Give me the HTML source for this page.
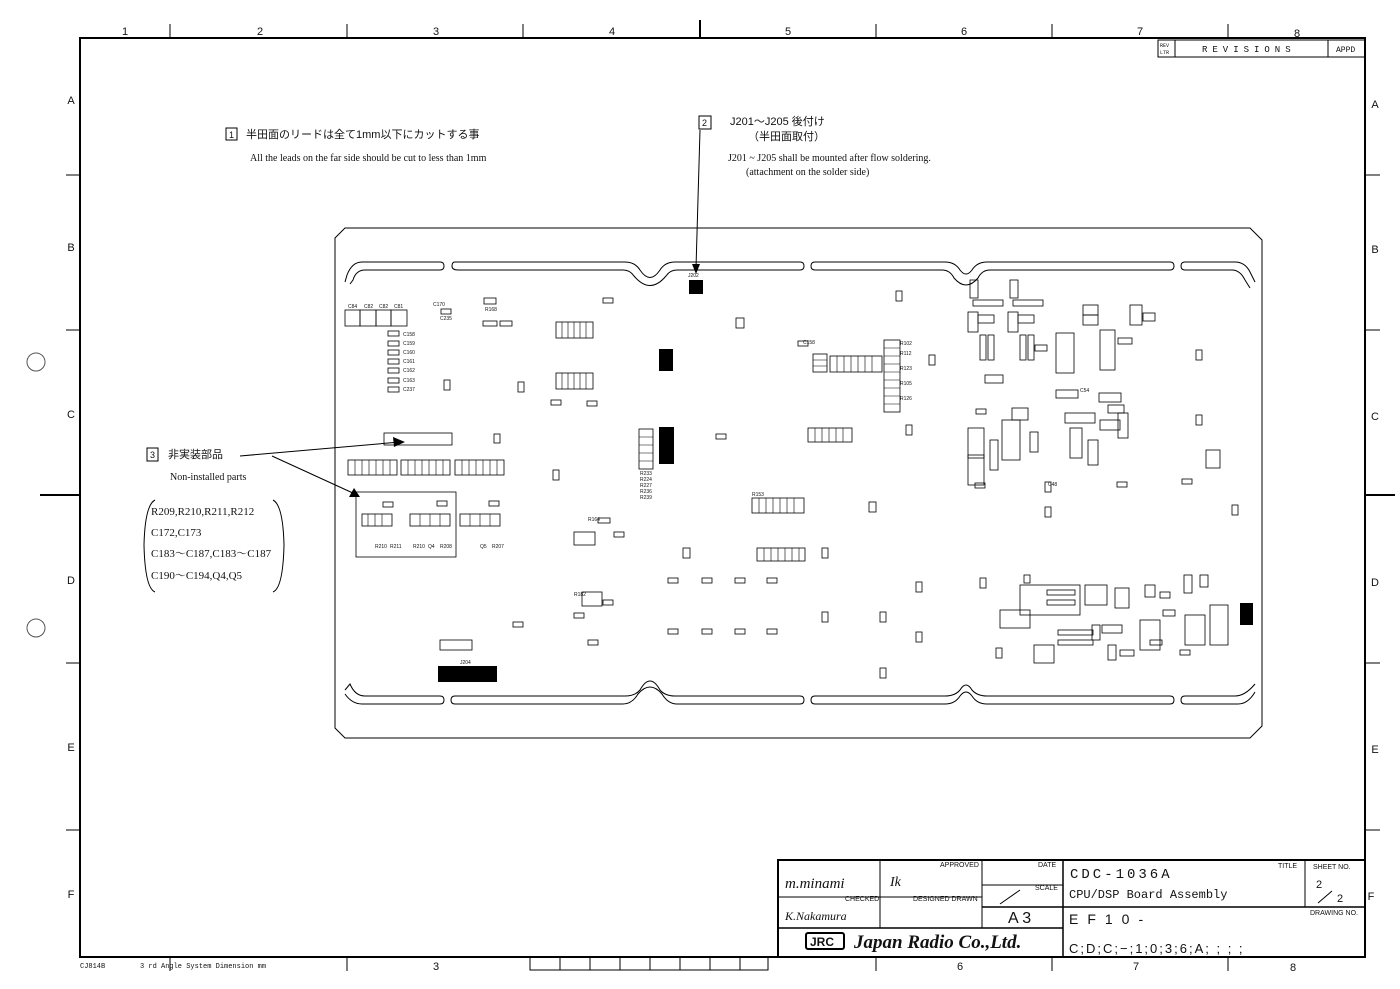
<!DOCTYPE html>
<html><head><meta charset="utf-8"><style>
html,body{margin:0;padding:0;background:#fff;}
svg{display:block;}
text{font-family:"Liberation Sans","Noto Sans CJK JP",sans-serif;fill:#111;}
.s{font-family:"Liberation Serif","Noto Serif CJK SC",serif;}
.m{font-family:"Liberation Mono",monospace;}
.t{font-size:5px;}
</style></head><body>
<svg width="1400" height="989" viewBox="0 0 1400 989" xmlns="http://www.w3.org/2000/svg">
<rect width="1400" height="989" fill="#fff"/>
<rect x="80" y="38" width="1285" height="919" fill="none" stroke="#000" stroke-width="2"/>
<g stroke="#000" stroke-width="1">
<line x1="170" y1="24" x2="170" y2="38"/><line x1="347" y1="24" x2="347" y2="38"/><line x1="523" y1="24" x2="523" y2="38"/><line x1="700" y1="20" x2="700" y2="38" stroke-width="2"/><line x1="876" y1="24" x2="876" y2="38"/><line x1="1052" y1="24" x2="1052" y2="38"/><line x1="1228" y1="24" x2="1228" y2="38"/>
<line x1="170" y1="957" x2="170" y2="971"/><line x1="347" y1="957" x2="347" y2="971"/><line x1="1052" y1="957" x2="1052" y2="971"/><line x1="1228" y1="957" x2="1228" y2="971"/><line x1="876" y1="957" x2="876" y2="971"/>
<line x1="66" y1="175" x2="80" y2="175"/><line x1="66" y1="330" x2="80" y2="330"/><line x1="40" y1="495" x2="80" y2="495" stroke-width="2"/><line x1="66" y1="663" x2="80" y2="663"/><line x1="66" y1="830" x2="80" y2="830"/>
<line x1="1365" y1="175" x2="1380" y2="175"/><line x1="1365" y1="330" x2="1380" y2="330"/><line x1="1365" y1="495" x2="1395" y2="495" stroke-width="2"/><line x1="1365" y1="663" x2="1380" y2="663"/><line x1="1365" y1="830" x2="1380" y2="830"/>
</g>
<g fill="none" stroke="#000"><rect x="530" y="957" width="238" height="13"/><line x1="560" y1="957" x2="560" y2="970"/><line x1="590" y1="957" x2="590" y2="970"/><line x1="620" y1="957" x2="620" y2="970"/><line x1="650" y1="957" x2="650" y2="970"/><line x1="680" y1="957" x2="680" y2="970"/><line x1="710" y1="957" x2="710" y2="970"/><line x1="740" y1="957" x2="740" y2="970"/></g>
<g font-size="11" text-anchor="middle">
<text x="125" y="35">1</text><text x="260" y="35">2</text><text x="436" y="35">3</text><text x="612" y="35">4</text><text x="788" y="35">5</text><text x="964" y="35">6</text><text x="1140" y="35">7</text><text x="1297" y="37">8</text>
<text x="436" y="970">3</text><text x="960" y="970">6</text><text x="1136" y="970">7</text><text x="1293" y="971">8</text>
<text x="71" y="104">A</text><text x="71" y="251">B</text><text x="71" y="418">C</text><text x="71" y="584">D</text><text x="71" y="751">E</text><text x="71" y="898">F</text>
<text x="1375" y="108">A</text><text x="1375" y="253">B</text><text x="1375" y="420">C</text><text x="1375" y="586">D</text><text x="1375" y="753">E</text><text x="1371" y="900">F</text>
</g>
<circle cx="36" cy="362" r="9" fill="none" stroke="#555"/><circle cx="36" cy="628" r="9" fill="none" stroke="#555"/>
<text x="80" y="968" font-size="7" class="m">CJ814B</text><text x="140" y="968" font-size="7" class="m">3 rd Angle System  Dimension mm</text>
<g fill="none" stroke="#000"><rect x="1158" y="40" width="207" height="17"/><line x1="1175" y1="40" x2="1175" y2="57"/><line x1="1328" y1="40" x2="1328" y2="57"/></g>
<text x="1160" y="47" font-size="5" class="m">REV</text><text x="1160" y="54" font-size="5" class="m">LTR</text>
<text x="1202" y="52" font-size="9" class="m" letter-spacing="5">REVISIONS</text><text x="1336" y="52" font-size="8" class="m">APPD</text>
<rect x="226" y="128" width="11" height="12" fill="none" stroke="#000"/><text x="229" y="138" font-size="9">1</text>
<text x="246" y="138" font-size="11">半田面のリードは全て1mm以下にカットする事</text>
<text x="250" y="161" font-size="10" class="s">All the leads on the far side should be cut to less than 1mm</text>
<rect x="699" y="116" width="12" height="13" fill="none" stroke="#000"/><text x="702" y="126" font-size="9">2</text>
<text x="730" y="125" font-size="11">J201～J205  後付け</text><text x="748" y="140" font-size="11">（半田面取付）</text>
<text x="728" y="161" font-size="10" class="s">J201 ~ J205 shall be mounted after flow soldering.</text>
<text x="746" y="175" font-size="10" class="s">(attachment on the solder side)</text>
<line x1="700" y1="130" x2="696" y2="268" stroke="#000"/><polygon points="692,264 700,264 696,274" fill="#000"/>
<rect x="147" y="448" width="11" height="13" fill="none" stroke="#000"/><text x="150" y="458" font-size="9">3</text>
<text x="168" y="458" font-size="11">非実装部品</text>
<text x="170" y="480" font-size="10" class="s">Non-installed parts</text>
<line x1="240" y1="456" x2="400" y2="442" stroke="#000"/><polygon points="393,437 405,442 394,447" fill="#000"/>
<line x1="272" y1="456" x2="355" y2="494" stroke="#000"/><polygon points="349,497 360,497 354,488" fill="#000"/>
<path d="M155,500 Q145,505 144,545 Q145,588 155,592" fill="none" stroke="#000"/><path d="M273,500 Q283,505 284,545 Q283,588 273,592" fill="none" stroke="#000"/>
<g font-size="11" class="s"><text x="151" y="515" class="s">R209,R210,R211,R212</text><text x="151" y="536" class="s">C172,C173</text><text x="151" y="557" class="s">C183～C187,C183～C187</text><text x="151" y="579" class="s">C190～C194,Q4,Q5</text></g>
<g fill="none" stroke="#000" stroke-width="1">
<path d="M345,228 L1250,228 L1262,240 L1262,726 L1250,738 L345,738 L335,728 L335,238 Z"/>
<path d="M345,282 L347,275 Q352,262 362,262 L440,262 Q444,262 444,266 Q444,270 440,270 L365,270 Q356,270 353,280 L350,284"/>
<path d="M455,262 L625,262 Q635,262 640,270 Q650,285 660,270 Q665,262 675,262 L800,262 Q804,262 804,266 Q804,270 800,270 L677,270 Q670,270 666,276 Q650,295 634,276 Q630,270 623,270 L458,270 Q452,270 452,266 Q452,262 455,262"/>
<path d="M815,262 L945,262 Q955,262 960,270 Q966,278 972,270 Q977,262 987,262 L1170,262 Q1174,262 1174,266 Q1174,270 1170,270 L990,270 Q982,270 978,278 Q966,292 954,278 Q950,270 942,270 L815,270 Q811,270 811,266 Q811,262 815,262"/>
<path d="M1185,262 L1235,262 Q1245,262 1250,272 L1255,282 M1185,270 L1232,270 Q1240,270 1245,280 L1250,288 M1185,262 Q1181,262 1181,266 Q1181,270 1185,270"/>
<path d="M345,690 L350,684 Q355,696 365,696 L440,696 Q444,696 444,700 Q444,704 440,704 L362,704 Q352,704 345,694"/>
<path d="M455,696 L625,696 Q635,696 640,690 Q650,672 660,690 Q665,696 675,696 L800,696 Q804,696 804,700 Q804,704 800,704 L677,704 Q668,704 662,694 Q650,680 638,694 Q632,704 623,704 L455,704 Q451,704 451,700 Q451,696 455,696"/>
<path d="M815,696 L945,696 Q955,696 960,690 Q966,680 972,690 Q977,696 987,696 L1170,696 Q1174,696 1174,700 Q1174,704 1170,704 L987,704 Q977,704 972,696 Q966,688 960,696 Q955,704 945,704 L815,704 Q811,704 811,700 Q811,696 815,696"/>
<path d="M1185,696 L1235,696 Q1245,696 1255,684 M1185,704 L1238,704 Q1248,704 1255,692 M1185,696 Q1181,696 1181,700 Q1181,704 1185,704"/>
</g>
<g fill="#000">
<rect x="689" y="280" width="14" height="14"/><rect x="659" y="349" width="14" height="22"/><rect x="659" y="427" width="15" height="37"/><rect x="438" y="666" width="59" height="16"/><rect x="1240" y="603" width="13" height="22"/>
</g>
<g font-size="4" class="t"><text x="688" y="277">J202</text><text x="460" y="664">J204</text></g>
<g fill="none" stroke="#000" stroke-width="0.8">
<rect x="345" y="310" width="15" height="16"/><rect x="360" y="310" width="16" height="16"/><rect x="376" y="310" width="15" height="16"/><rect x="391" y="310" width="16" height="16"/>
<rect x="388" y="331" width="11" height="5"/><rect x="388" y="341" width="11" height="5"/><rect x="388" y="350" width="11" height="5"/><rect x="388" y="359" width="11" height="5"/><rect x="388" y="368" width="11" height="5"/><rect x="388" y="378" width="11" height="5"/><rect x="388" y="387" width="11" height="5"/>
<rect x="441" y="309" width="10" height="5"/><rect x="484" y="298" width="12" height="6"/><rect x="483" y="321" width="14" height="5"/><rect x="500" y="321" width="12" height="5"/><rect x="603" y="298" width="10" height="5"/>
<rect x="556" y="322" width="37" height="16"/><rect x="556" y="373" width="37" height="16"/>
<rect x="551" y="400" width="10" height="5"/><rect x="587" y="401" width="10" height="5"/>
<rect x="444" y="380" width="6" height="10"/><rect x="518" y="382" width="6" height="10"/><rect x="736" y="318" width="8" height="10"/>
<rect x="384" y="433" width="68" height="12"/><rect x="494" y="434" width="6" height="9"/>
<rect x="348" y="460" width="49" height="15"/><rect x="401" y="460" width="49" height="15"/><rect x="455" y="460" width="49" height="15"/>
<rect x="356" y="492" width="100" height="65"/><rect x="383" y="502" width="10" height="5"/><rect x="437" y="501" width="10" height="5"/><rect x="489" y="501" width="10" height="5"/>
<rect x="362" y="514" width="30" height="12"/><rect x="410" y="514" width="40" height="12"/><rect x="460" y="514" width="40" height="12"/>
<rect x="639" y="429" width="14" height="40"/><rect x="716" y="434" width="10" height="5"/><rect x="553" y="470" width="6" height="10"/>
<rect x="598" y="518" width="12" height="5"/><rect x="574" y="532" width="21" height="13"/><rect x="614" y="532" width="10" height="5"/>
<rect x="683" y="548" width="7" height="10"/><rect x="752" y="498" width="52" height="15"/><rect x="757" y="548" width="48" height="13"/><rect x="822" y="548" width="6" height="10"/><rect x="869" y="502" width="7" height="10"/>
<rect x="582" y="592" width="20" height="14"/><rect x="603" y="600" width="10" height="5"/><rect x="574" y="613" width="10" height="5"/><rect x="588" y="640" width="10" height="5"/>
<rect x="668" y="578" width="10" height="5"/><rect x="702" y="578" width="10" height="5"/><rect x="735" y="578" width="10" height="5"/><rect x="767" y="578" width="10" height="5"/>
<rect x="668" y="629" width="10" height="5"/><rect x="702" y="629" width="10" height="5"/><rect x="735" y="629" width="10" height="5"/><rect x="767" y="629" width="10" height="5"/>
<rect x="513" y="622" width="10" height="5"/><rect x="440" y="640" width="32" height="10"/>
<rect x="813" y="354" width="14" height="18"/><rect x="830" y="356" width="52" height="16"/><rect x="884" y="340" width="16" height="72"/><rect x="798" y="341" width="10" height="5"/>
<rect x="808" y="428" width="44" height="14"/><rect x="906" y="425" width="6" height="10"/><rect x="929" y="355" width="6" height="10"/><rect x="896" y="291" width="6" height="10"/>
<rect x="822" y="612" width="6" height="10"/><rect x="880" y="612" width="6" height="10"/><rect x="916" y="582" width="6" height="10"/><rect x="916" y="632" width="6" height="10"/><rect x="880" y="668" width="6" height="10"/><rect x="996" y="648" width="6" height="10"/><rect x="980" y="578" width="6" height="10"/>
<rect x="1045" y="482" width="6" height="10"/><rect x="1045" y="507" width="6" height="10"/><rect x="1117" y="482" width="10" height="5"/><rect x="1182" y="479" width="10" height="5"/><rect x="1232" y="505" width="6" height="10"/><rect x="1196" y="350" width="6" height="10"/><rect x="1196" y="415" width="6" height="10"/><rect x="1206" y="450" width="14" height="18"/><rect x="1099" y="393" width="22" height="9"/>
</g>
<!-- array dividers -->
<g stroke="#000" stroke-width="0.6">
<path d="M562,322v16M568,322v16M574,322v16M580,322v16M586,322v16M562,373v16M568,373v16M574,373v16M580,373v16M586,373v16"/>
<path d="M355,460v15M362,460v15M369,460v15M376,460v15M383,460v15M390,460v15M408,460v15M415,460v15M422,460v15M429,460v15M436,460v15M443,460v15M462,460v15M469,460v15M476,460v15M483,460v15M490,460v15M497,460v15"/>
<path d="M639,437h14M639,445h14M639,453h14M639,461h14"/>
<path d="M759,498v15M766,498v15M773,498v15M780,498v15M787,498v15M794,498v15M764,548v13M771,548v13M778,548v13M785,548v13M792,548v13M799,548v13"/>
<path d="M837,356v16M844,356v16M851,356v16M858,356v16M865,356v16M872,356v16M884,348h16M884,356h16M884,364h16M884,372h16M884,380h16M884,388h16M884,396h16M884,404h16"/>
<path d="M815,428v14M822,428v14M829,428v14M836,428v14M843,428v14"/>
<path d="M813,360h14M813,366h14M368,514v12M375,514v12M382,514v12M420,514v12M430,514v12M440,514v12M470,514v12M480,514v12M490,514v12"/>
</g>
<g fill="none" stroke="#000" stroke-width="0.8">
<rect x="970" y="280" width="8" height="18"/><rect x="973" y="300" width="30" height="6"/><rect x="968" y="312" width="10" height="20"/><rect x="978" y="315" width="16" height="8"/><rect x="980" y="335" width="6" height="25"/><rect x="988" y="335" width="6" height="25"/>
<rect x="1010" y="280" width="8" height="18"/><rect x="1013" y="300" width="30" height="6"/><rect x="1008" y="312" width="10" height="20"/><rect x="1018" y="315" width="16" height="8"/><rect x="1020" y="335" width="6" height="25"/><rect x="1028" y="335" width="6" height="25"/>
<rect x="1056" y="333" width="18" height="40"/><rect x="1083" y="305" width="15" height="10"/><rect x="1083" y="315" width="15" height="10"/><rect x="1100" y="330" width="15" height="40"/><rect x="1130" y="305" width="12" height="20"/><rect x="1143" y="313" width="12" height="8"/>
<rect x="1056" y="390" width="22" height="8"/><rect x="1108" y="405" width="16" height="8"/>
<rect x="968" y="428" width="16" height="30"/><rect x="968" y="455" width="16" height="30"/><rect x="1002" y="420" width="18" height="40"/><rect x="1012" y="408" width="16" height="12"/>
<rect x="1065" y="413" width="30" height="10"/><rect x="1070" y="428" width="12" height="30"/><rect x="1100" y="420" width="20" height="10"/><rect x="1118" y="413" width="10" height="25"/>
<rect x="976" y="409" width="10" height="5"/><rect x="975" y="483" width="10" height="5"/>
<rect x="1020" y="585" width="60" height="30"/><rect x="1047" y="590" width="28" height="5"/><rect x="1047" y="600" width="28" height="5"/><rect x="1085" y="585" width="22" height="20"/><rect x="1115" y="588" width="14" height="20"/><rect x="1000" y="610" width="30" height="18"/>
<rect x="1058" y="630" width="35" height="5"/><rect x="1058" y="640" width="35" height="5"/><rect x="1092" y="625" width="8" height="15"/><rect x="1102" y="625" width="20" height="8"/><rect x="1140" y="620" width="20" height="30"/>
<rect x="1184" y="575" width="8" height="18"/><rect x="1200" y="575" width="8" height="12"/><rect x="1185" y="615" width="20" height="30"/><rect x="1210" y="605" width="18" height="40"/><rect x="1180" y="650" width="10" height="5"/><rect x="1034" y="645" width="20" height="18"/><rect x="1145" y="585" width="10" height="12"/>
<rect x="985" y="375" width="18" height="8"/><rect x="1035" y="345" width="12" height="6"/><rect x="1118" y="338" width="14" height="6"/><rect x="990" y="440" width="8" height="30"/><rect x="1030" y="432" width="8" height="20"/><rect x="1088" y="440" width="10" height="25"/><rect x="1160" y="592" width="10" height="6"/><rect x="1163" y="610" width="12" height="6"/><rect x="1120" y="650" width="14" height="6"/><rect x="1024" y="575" width="6" height="8"/><rect x="1108" y="645" width="8" height="15"/><rect x="1150" y="640" width="12" height="5"/>
</g>
<g font-size="4" class="t">
<text x="348" y="308">C84</text><text x="364" y="308">C82</text><text x="379" y="308">C82</text><text x="394" y="308">C81</text>
<text x="403" y="336">C158</text><text x="403" y="345">C159</text><text x="403" y="354">C160</text><text x="403" y="363">C161</text><text x="403" y="372">C162</text><text x="403" y="382">C163</text><text x="403" y="391">C237</text>
<text x="433" y="306">C170</text><text x="440" y="320">C235</text><text x="485" y="311">R168</text><text x="803" y="344">C158</text><text x="900" y="345">R102</text><text x="900" y="355">R112</text><text x="900" y="370">R123</text><text x="900" y="385">R105</text><text x="900" y="400">R126</text>
<text x="588" y="521">R164</text><text x="574" y="596">R182</text><text x="752" y="496">R153</text>
<text x="1048" y="486">C48</text><text x="1080" y="392">C54</text>
<text x="640" y="475">R233</text><text x="640" y="481">R224</text><text x="640" y="487">R227</text><text x="640" y="493">R236</text><text x="640" y="499">R239</text>
<text x="375" y="548">R210</text><text x="390" y="548">R211</text><text x="413" y="548">R210</text><text x="428" y="548">Q4</text><text x="440" y="548">R208</text><text x="480" y="548">Q5</text><text x="492" y="548">R207</text>
</g>
<g fill="none" stroke="#000"><rect x="778" y="860" width="587" height="97" stroke-width="2"/>
<line x1="880" y1="860" x2="880" y2="928"/><line x1="982" y1="860" x2="982" y2="928"/><line x1="1063" y1="860" x2="1063" y2="957" stroke-width="1.5"/>
<line x1="1305" y1="860" x2="1305" y2="907"/>
<line x1="778" y1="897" x2="982" y2="897"/><line x1="982" y1="885" x2="1063" y2="885"/><line x1="982" y1="907" x2="1365" y2="907" stroke-width="1.5"/>
<line x1="778" y1="928" x2="1063" y2="928" stroke-width="1.5"/>
<line x1="1000" y1="904" x2="1020" y2="890"/><line x1="1318" y1="903" x2="1332" y2="891"/></g>
<g class="m" font-size="7">
<text x="940" y="867">APPROVED</text><text x="1038" y="867">DATE</text><text x="845" y="901">CHECKED</text><text x="913" y="901">DESIGNED DRAWN</text><text x="1035" y="890">SCALE</text><text x="1278" y="868">TITLE</text><text x="1313" y="869">SHEET NO.</text><text x="1310" y="915">DRAWING NO.</text>
</g>
<text x="785" y="888" font-size="15" font-style="italic" class="s">m.minami</text>
<text x="785" y="920" font-size="12" font-style="italic" class="s">K.Nakamura</text>
<text x="890" y="886" font-size="14" font-style="italic" class="s" fill="#555">Ik</text>
<text x="1008" y="923" font-size="16">A 3</text>
<text x="1070" y="878" font-size="14" class="m" letter-spacing="3">CDC-1036A</text>
<text x="1069" y="898" font-size="12" class="m">CPU/DSP Board Assembly</text>
<text x="1316" y="888" font-size="11">2</text><text x="1337" y="902" font-size="11">2</text>
<text x="1069" y="924" font-size="14" letter-spacing="9">EF10-</text>
<text x="1069" y="953" font-size="13" letter-spacing="2">C;D;C;−;1;0;3;6;A; ; ; ;</text>
<rect x="806" y="933" width="38" height="16" rx="2" fill="none" stroke="#000" stroke-width="2"/><text x="810" y="946" font-size="12" font-weight="bold">JRC</text>
<text x="854" y="948" font-size="19" font-weight="bold" font-style="italic" class="s">Japan Radio Co.,Ltd.</text>
</svg>
</body></html>
